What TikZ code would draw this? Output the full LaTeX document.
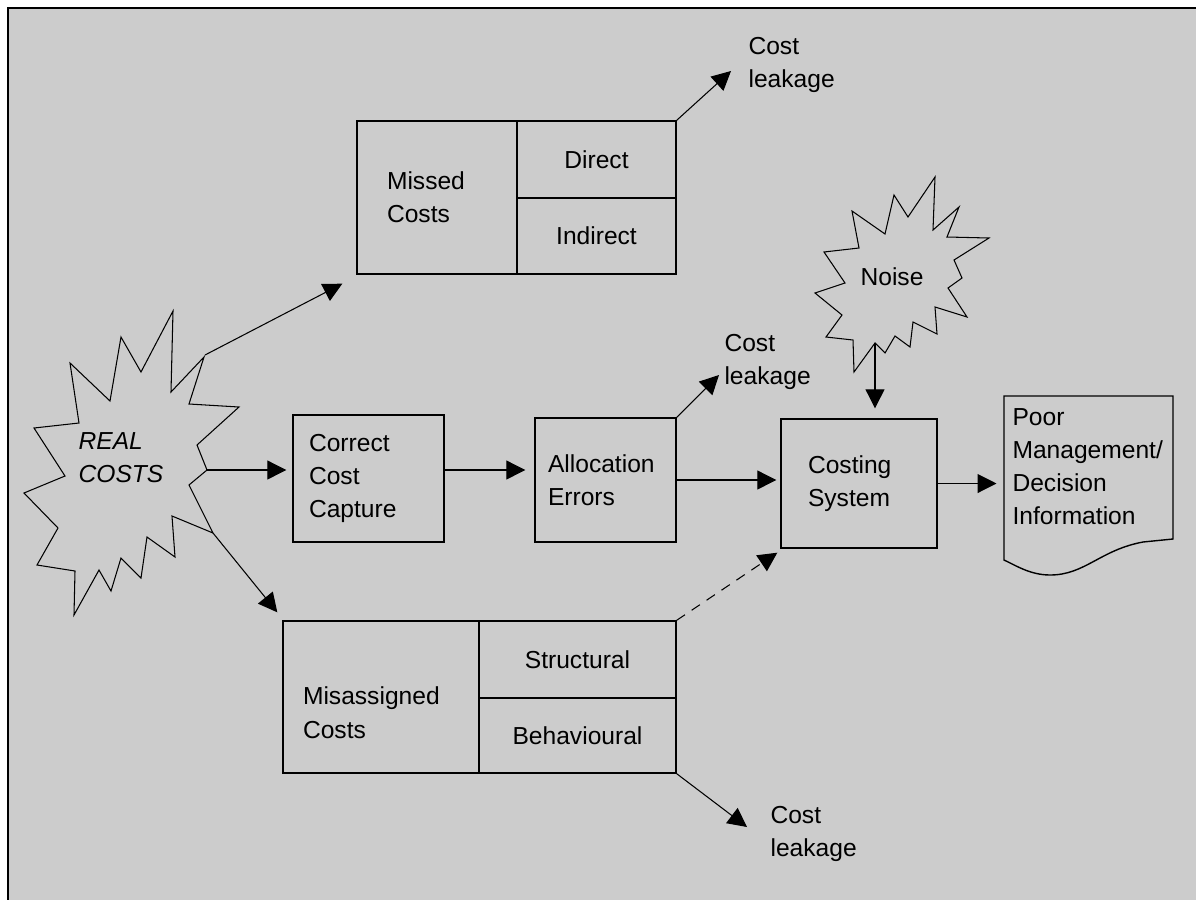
\documentclass[tikz,border=0pt]{standalone}
\usepackage{fontspec}
\setmainfont{Liberation Sans}
\usetikzlibrary{arrows.meta}
\definecolor{panel}{RGB}{204,204,204}

\begin{document}
\begin{tikzpicture}[x=0.02cm,y=-0.02cm,
    font=\fontsize{14}{18.8}\selectfont,
    >={Triangle[length=0.38cm,width=0.38cm]},
    line width=0.6pt,
    box/.style={draw,line width=0.8pt,align=left,inner xsep=0pt},
    cell/.style={draw,line width=0.8pt},
    note/.style={align=left,inner sep=0pt,anchor=west}]
  \useasboundingbox (0,0) rectangle (1196,900);
  \fill[panel] (8,8) rectangle (1196,900);
  \draw (1196,8) -- (8,8) -- (8,900);

  % the two bursts
  \draw (173,311) -- (171,392) -- (204,357) -- (189,404) -- (239,407) -- (197,445)
    -- (207,470) -- (189,485) -- (213,533) -- (172,516) -- (175,557) -- (147,537)
    -- (141,578) -- (121,558) -- (111,591) -- (99,570) -- (74,615) -- (75,571)
    -- (37,565) -- (58,528) -- (24,493) -- (65,476) -- (34,428) -- (79,423)
    -- (70,363) -- (110,401) -- (121,337) -- (141,372) -- cycle;
  \draw (935,177) -- (933,230) -- (959,207) -- (947,237) -- (989,238) -- (954,260)
    -- (962,278) -- (948,288) -- (967,317) -- (935,307) -- (937,334) -- (913,322)
    -- (910,347) -- (895,336) -- (885,353) -- (875,343) -- (854,372) -- (853,340)
    -- (826,337) -- (842,315) -- (815,293) -- (845,283) -- (824,252) -- (859,248)
    -- (852,211) -- (885,234) -- (894,195) -- (908,217) -- cycle;
  \coordinate (real-ne) at (205,355);
  \coordinate (real-e) at (207,470);
  \coordinate (real-se) at (213,533);
  \coordinate (noise-s) at (875,343);
  \node[align=left,font=\fontsize{14}{18.8}\selectfont\itshape] (real) at (121,458) {REAL\\COSTS};
  \node (noise) at (892,277) {Noise};

  % boxes
  \node[box,minimum width=3.2cm,minimum height=3.06cm,text width=2cm] (missed) at (437,197.5) {Missed\\Costs};
  \node[cell,minimum width=3.18cm,minimum height=1.54cm] (direct) at (596.5,159.5) {Direct};
  \node[cell,minimum width=3.18cm,minimum height=1.52cm] (indirect) at (596.5,236) {Indirect};
  \node[box,minimum width=3.02cm,minimum height=2.54cm,text width=2.38cm] (correct) at (368.5,478.5) {Correct\\Cost\\Capture};
  \node[box,minimum width=2.82cm,minimum height=2.48cm,text width=2.3cm] (alloc) at (605.5,480) {Allocation\\Errors};
  \node[box,minimum width=3.12cm,minimum height=2.58cm,text width=2.04cm] (costing) at (859,483.5) {Costing\\System};
  \node[box,minimum width=3.92cm,minimum height=3.04cm,text width=3.12cm,text height=28pt] (misassigned) at (381,697) {Misassigned\\Costs};
  \node[cell,minimum width=3.94cm,minimum height=1.54cm] (structural) at (577.5,659.5) {Structural};
  \node[cell,minimum width=3.94cm,minimum height=1.5cm] (behavioural) at (577.5,735.5) {Behavioural};

  % document
  \draw[line width=0.8pt] (1004,396) -- (1173,396) -- (1173,539) -- (1143,542)
    .. controls (1100,550) and (1085,575) .. (1050,575)
    .. controls (1030,575) and (1015,565) .. (1004,560) -- cycle;
  \node[align=left,text width=3.1cm,inner ysep=0pt,inner xsep=0.17cm] (info) at (1090,467) {Poor\\Management/\\Decision\\Information};

  \node[note] (leak1) at (748,65) {Cost\\leakage};
  \node[note] (leak2) at (724,362) {Cost\\leakage};
  \node[note] (leak3) at (770,834) {Cost\\leakage};

  % connectors
  \draw[->] (real-ne) -- ([shift={(-14,9)}]missed.south west);
  \draw[->] (real-e) -- ([shift={(-6,0)}]real-e -| correct.west);
  \draw[->] (real-e -| correct.east) -- ([shift={(-9,0)}]real-e -| alloc.west);
  \draw[->] (real-se) -- ([shift={(-5,-8)}]misassigned.north west);
  \draw[->] (direct.north east) -- ([shift={(-17,6)}]leak1.west);
  \draw[->] (alloc.north east) -- ([shift={(-5,13)}]leak2.west);
  \draw[->] (alloc.east) -- ([shift={(-4,0)}]alloc.east -| costing.west);
  \draw[->] (behavioural.south east) -- ([shift={(-23,-7)}]leak3.west);
  \draw[->] (noise-s) -- ([shift={(0,-10)}]noise-s |- costing.north);
  \draw[->] (costing.east) -- ([shift={(-7,0)}]costing.east -| info.west);
  \draw[->,dash pattern=on 0.2cm off 0.16cm] (structural.north east) -- ([shift={(-3,4)}]costing.south west);
\end{tikzpicture}
\end{document}
